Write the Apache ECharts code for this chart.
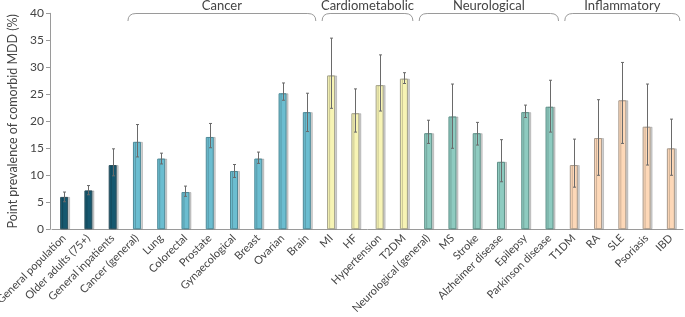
<!DOCTYPE html>
<html>
<head>
<meta charset="utf-8">
<script src="https://cdn.jsdelivr.net/npm/echarts@6/dist/echarts.min.js"></script>
<style>
html,body{margin:0;padding:0;background:#fff;}
#chart{width:685px;height:317px;}
</style>
</head>
<body>
<div id="chart"></div>
<script>
var categories = ['General population','Older adults (75+)','General inpatients','Cancer (general)','Lung','Colorectal','Prostate','Gynaecological','Breast','Ovarian','Brain','MI','HF','Hypertension','T2DM','Neurological (general)','MS','Stroke','Alzheimer disease','Epilepsy','Parkinson disease','T1DM','RA','SLE','Psoriasis','IBD'];
var values = [6.0, 7.2, 11.9, 16.2, 13.1, 6.9, 17.1, 10.8, 13.1, 25.2, 21.7, 28.5, 21.5, 26.7, 27.9, 17.8, 20.9, 17.8, 12.5, 21.7, 22.7, 11.9, 16.9, 23.9, 19.0, 15.0];
var errLow = [5.1, 6.4, 9.9, 13.4, 12.1, 6.1, 15.1, 9.6, 12.2, 23.9, 18.1, 22.4, 18.0, 21.9, 27.0, 15.9, 15.0, 15.6, 8.8, 20.7, 18.0, 7.8, 10.0, 15.9, 11.9, 10.0];
var errHigh = [6.9, 8.1, 14.9, 19.4, 14.1, 8.0, 19.6, 12.0, 14.3, 27.1, 25.2, 35.4, 26.0, 32.3, 29.0, 20.2, 26.9, 19.8, 16.6, 23.0, 27.6, 16.7, 24.0, 30.9, 26.9, 20.4];
var groupOf = [0,0,0,1,1,1,1,1,1,1,1,2,2,2,2,3,3,3,3,3,3,4,4,4,4,4];
var groupNames = ['Cancer','Cardiometabolic','Neurological','Inflammatory'];
var groupStart = [3, 11, 15, 21];
var groupEnd = [10, 14, 20, 25];
var yTicks = [0, 5, 10, 15, 20, 25, 30, 35, 40];

var palette = ['#16586f', '#6bbdd0', '#f7f4b4', '#8ecbc0', '#fdd8b8'];
var borders = ['#2b4f5c', '#4f8a98', '#a3a18a', '#5f9088', '#a89a8c'];
var FONT = 'Lato';

var chart = echarts.init(document.getElementById('chart'));
var barData = values.map(function (v, i) {
  return {
    value: v,
    itemStyle: {
      color: palette[groupOf[i]],
      borderColor: borders[groupOf[i]],
      borderWidth: 1,
      shadowColor: 'rgba(0,0,0,0.18)',
      shadowOffsetX: 2,
      shadowBlur: 0
    }
  };
});
var errData = values.map(function (v, i) { return [i, errLow[i], errHigh[i]]; });

chart.setOption({
  animation: false,
  grid: {left: 52, right: 2, top: 13.3, bottom: 87.7, containLabel: false, outerBoundsMode: 'none'},
  xAxis: {
    type: 'category',
    data: categories,
    axisLine: {lineStyle: {color: '#9a9a9a', width: 1}},
    axisTick: {alignWithLabel: true, length: 3, lineStyle: {color: '#9a9a9a'}},
    axisLabel: {rotate: 45, interval: 0, fontFamily: FONT, fontSize: 11, color: '#444', margin: 7}
  },
  yAxis: {
    type: 'value',
    min: 0, max: 40, interval: 5,
    offset: 2,
    name: 'Point prevalence of comorbid MDD (%)',
    nameLocation: 'middle',
    nameGap: 24,
    nameTextStyle: {fontFamily: FONT, fontSize: 12.5, color: '#444'},
    axisLine: {show: true, lineStyle: {color: '#9a9a9a'}},
    axisTick: {show: true, length: 4, lineStyle: {color: '#9a9a9a'}},
    splitLine: {show: false},
    axisLabel: {fontFamily: FONT, fontSize: 12, color: '#444', margin: 6,
      formatter: function (v) { return yTicks.indexOf(v) >= 0 ? String(v) : ''; }}
  },
  series: [
    {
      type: 'bar',
      data: barData,
      barWidth: 8
    },
    {
      type: 'custom',
      data: errData,
      z: 5,
      renderItem: function (params, api) {
        var hi = api.coord([api.value(0), api.value(2)]);
        var lo = api.coord([api.value(0), api.value(1)]);
        var x = Math.round(hi[0]) + 0.5;
        var st = {stroke: '#6a6a6a', lineWidth: 1};
        return {
          type: 'group',
          children: [
            {type: 'line', shape: {x1: x, y1: hi[1], x2: x, y2: lo[1]}, style: st},
            {type: 'line', shape: {x1: x - 1.5, y1: hi[1], x2: x + 1.5, y2: hi[1]}, style: st},
            {type: 'line', shape: {x1: x - 1.5, y1: lo[1], x2: x + 1.5, y2: lo[1]}, style: st}
          ]
        };
      }
    }
  ]
});

var graphics = [];
var bst = {stroke: '#9a9a9a', lineWidth: 1, fill: null};
for (var g = 0; g < groupNames.length; g++) {
  var L = chart.convertToPixel({xAxisIndex: 0}, groupStart[g]) - 9;
  var R = chart.convertToPixel({xAxisIndex: 0}, groupEnd[g]) + 9;
  var yTop = 13.5, yBot = 21;
  graphics.push({type: 'bezierCurve', shape: {x1: L, y1: yBot, x2: L + 8, y2: yTop, cpx1: L, cpy1: yTop}, style: bst});
  graphics.push({type: 'line', shape: {x1: L + 8, y1: yTop, x2: R - 8, y2: yTop}, style: bst});
  graphics.push({type: 'bezierCurve', shape: {x1: R - 8, y1: yTop, x2: R, y2: yBot, cpx1: R, cpy1: yTop}, style: bst});
  graphics.push({
    type: 'text',
    x: (L + R) / 2, y: 6,
    style: {text: groupNames[g], fontFamily: FONT, fontSize: 13, fill: '#444', align: 'center', verticalAlign: 'middle'}
  });
}
chart.setOption({graphic: graphics});
</script>
</body>
</html>
